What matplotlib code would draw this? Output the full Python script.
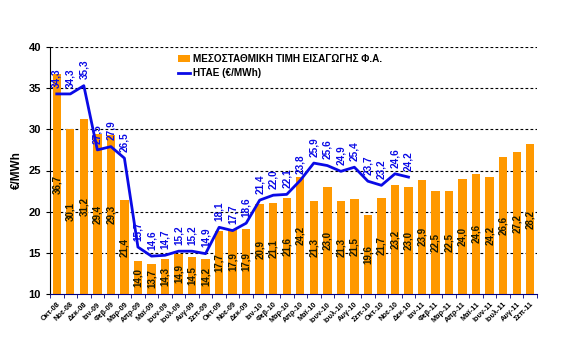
import matplotlib
matplotlib.use("Agg")
import matplotlib.pyplot as plt
from matplotlib.patches import Patch
from matplotlib.lines import Line2D
import numpy as np

plt.rcParams['font.family'] = ['Liberation Sans', 'DejaVu Sans']

months = ["Οκτ-08", "Νοε-08", "Δεκ-08", "Ιαν-09", "Φεβ-09", "Μαρ-09", "Απρ-09", "Μαϊ-09",
          "Ιουν-09", "Ιουλ-09", "Αυγ-09", "Σεπ-09", "Οκτ-09", "Νοε-09", "Δεκ-09", "Ιαν-10",
          "Φεβ-10", "Μαρ-10", "Απρ-10", "Μαϊ-10", "Ιουν-10", "Ιουλ-10", "Αυγ-10", "Σεπ-10",
          "Οκτ-10", "Νοε-10", "Δεκ-10", "Ιαν-11", "Φεβ-11", "Μαρ-11", "Απρ-11", "Μαϊ-11",
          "Ιουν-11", "Ιουλ-11", "Αυγ-11", "Σεπ-11"]
import_price = [36.7, 30.1, 31.2, 29.4, 29.3, 21.4, 14.0, 13.7, 14.3, 14.9, 14.5, 14.2,
                17.7, 17.9, 17.9, 20.9, 21.1, 21.6, 24.2, 21.3, 23.0, 21.3, 21.5, 19.6,
                21.7, 23.2, 23.0, 23.9, 22.5, 22.5, 24.0, 24.6, 24.2, 26.6, 27.2, 28.2]
htae = [34.3, 34.3, 35.3, 27.5, 27.9, 26.5, 15.7, 14.6, 14.7, 15.2, 15.2, 14.9,
        18.1, 17.7, 18.6, 21.4, 22.0, 22.1, 23.8, 25.9, 25.6, 24.9, 25.4, 23.7,
        23.2, 24.6, 24.2]
bar_label = "ΜΕΣΟΣΤΑΘΜΙΚΗ ΤΙΜΗ ΕΙΣΑΓΩΓΗΣ Φ.Α."
line_label = "ΗΤΑΕ (€/MWh)"
ylabel = "€/MWh"

bar_color = "#FF9900"
line_color = "#0A0AE6"

fig = plt.figure(figsize=(5.73, 3.49), dpi=100)
ax = fig.add_axes([50/573, 1-294/349, (537-50)/573, (294-47)/349])

x = np.arange(len(months))
base = 10
ax.bar(x, np.array(import_price) - base, bottom=base, width=0.62, color=bar_color, zorder=2)
ax.set_ylim(10, 40)
ax.set_xlim(-0.5, len(months) - 0.5)
ax.set_yticks([10, 15, 20, 25, 30, 35, 40])
for yv in [15, 20, 25, 30, 35, 40]:
    ax.axhline(yv, color="black", lw=0.8, ls=(0, (2.5, 2)), zorder=1)

for xi, v in zip(x, import_price):
    ax.text(xi, base + (v - base) / 2, f"{v:.1f}".replace(".", ","), rotation=90,
            ha="center", va="center", fontsize=7, fontweight="bold", color="#1a1a00", zorder=4)

xl = x[:len(htae)]
ax.plot(xl, htae, color=line_color, lw=2, zorder=3)
for xi, v in zip(xl, htae):
    ax.annotate(f"{v:.1f}".replace(".", ","), (xi, v), xytext=(0, 4.5), textcoords="offset points",
                rotation=90, ha="center", va="bottom", fontsize=7.2, fontweight="bold",
                color=line_color, zorder=4)

ax.set_xticks(x)
ax.set_xticklabels(months, rotation=45, ha="right", rotation_mode="anchor", fontsize=5.3)
ax.tick_params(axis="x", length=0, pad=5)
ax.set_xticks(np.arange(-0.5, len(months)), minor=True)
ax.tick_params(axis="x", which="minor", length=3, color="#000080")
ax.tick_params(axis="y", length=3, labelsize=8)
for lab in ax.get_yticklabels():
    lab.set_fontweight("bold")
for lab in ax.get_xticklabels():
    lab.set_fontweight("bold")

for s in ["top", "right"]:
    ax.spines[s].set_visible(False)
ax.spines["bottom"].set_color("#000080")
ax.spines["left"].set_color("black")

fig.text(17/573, 1-170/349, ylabel, rotation=90, ha="center", va="center",
         fontsize=8.5, fontweight="bold")

handles = [Patch(facecolor=bar_color, edgecolor="none"),
           Line2D([0], [0], color=line_color, lw=2)]
leg = fig.legend(handles, [bar_label, line_label], loc="upper left",
                 bbox_to_anchor=(176/573, 1-52/349), frameon=True,
                 prop={"weight": "bold", "size": 7.2}, handlelength=1.2, handletextpad=0.3,
                 borderpad=0.2, labelspacing=0.4, borderaxespad=0)
leg.get_frame().set_facecolor("white")
leg.get_frame().set_edgecolor("none")
leg.get_frame().set_alpha(1)

fig.savefig("out.png", dpi=100)
